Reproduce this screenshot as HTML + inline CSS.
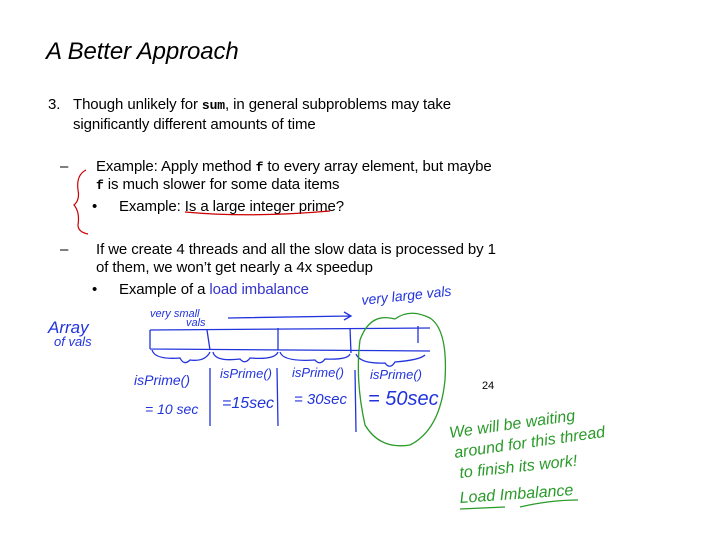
<!DOCTYPE html>
<html><head><style>
body{margin:0;width:720px;height:540px;background:#fff;overflow:hidden;position:relative;font-family:"Liberation Sans",sans-serif;}
.t{position:absolute;color:#000;font-size:15px;white-space:nowrap;letter-spacing:-0.1px}
code{font-family:"Liberation Mono",monospace;font-weight:bold;font-size:13px}
</style></head><body>
<div class="t" style="left:46px;top:38px;font-size:24px;font-style:italic">A Better Approach</div>
<div class="t" style="left:48px;top:96px">3.</div>
<div class="t" style="left:73px;top:96px">Though unlikely for <code>sum</code>, in general subproblems may take</div>
<div class="t" style="left:73px;top:116px">significantly different amounts of time</div>
<div class="t" style="left:60px;top:158px">–</div>
<div class="t" style="left:96px;top:158px">Example: Apply method <code>f</code> to every array element, but maybe</div>
<div class="t" style="left:96px;top:176px"><code>f</code> is much slower for some data items</div>
<div class="t" style="left:92px;top:198px">•</div>
<div class="t" style="left:119px;top:198px">Example: Is a large integer prime?</div>
<div class="t" style="left:60px;top:241px">–</div>
<div class="t" style="left:96px;top:241px">If we create 4 threads and all the slow data is processed by 1</div>
<div class="t" style="left:96px;top:259px">of them, we won’t get nearly a 4x speedup</div>
<div class="t" style="left:92px;top:281px">•</div>
<div class="t" style="left:119px;top:281px">Example of a <span style="color:#3333cc">load imbalance</span></div>
<div class="t" style="left:482px;top:380px;font-size:11px">24</div>
<svg width="720" height="540" style="position:absolute;left:0;top:0" font-family="'Liberation Sans',sans-serif">
<g fill="none" stroke="#c00" stroke-width="1.2">
<path d="M86 170 Q76 175 78 190 Q80 200 74 205 Q80 212 78 225 Q78 232 88 234"/>
<path d="M185 212 Q250 218 330 211"/>
</g>
<g fill="none" stroke="#2233dd" stroke-width="1.3">
<path d="M150 330 L430 328 M150 330 L150 349 M150 349 L430 351"/>
<path d="M207 330 L210 350 M278 328 L278 350 M350 328 L351 353 M418 326 L418 343"/>
<path d="M228 318 L350 316 M344 312 L351 316 L344 320"/>
<path d="M152 350 Q155 360 180 358 Q184 366 190 360 Q205 362 210 352"/>
<path d="M213 352 Q215 362 240 359 Q245 365 250 358 Q275 360 278 352"/>
<path d="M280 352 Q283 362 315 360 Q320 366 325 359 Q348 360 350 354"/>
<path d="M356 354 Q360 364 385 363 Q390 370 395 362 Q420 360 425 355"/>
<path d="M210 368 L210 426 M277 368 L278 426 M355 370 L356 432"/>
</g>
<g fill="#2233dd" font-style="italic">
<text x="48" y="333" font-size="17">Array</text>
<text x="54" y="346" font-size="13">of vals</text>
<text x="150" y="317" font-size="11">very small</text>
<text x="186" y="326" font-size="11">vals</text>
<text x="362" y="305" font-size="14" transform="rotate(-6 362 305)">very large vals</text>
<text x="134" y="385" font-size="14">isPrime()</text>
<text x="220" y="378" font-size="13">isPrime()</text>
<text x="292" y="377" font-size="13">isPrime()</text>
<text x="370" y="379" font-size="13">isPrime()</text>
<text x="145" y="414" font-size="14">= 10 sec</text>
<text x="222" y="408" font-size="16">=15sec</text>
<text x="294" y="404" font-size="15">= 30sec</text>
<text x="368" y="405" font-size="20">= 50sec</text>
</g>
<g fill="none" stroke="#2a9a2a" stroke-width="1.3">
<path d="M395 319 Q370 312 360 340 Q355 380 365 425 Q380 450 410 445 Q440 430 445 380 Q448 330 430 318 Q410 308 395 319"/>
<path d="M460 509 L505 507 M520 507 Q550 500 578 500"/>
</g>
<g fill="#2a9a2a" font-style="italic" font-size="16">
<text x="450" y="438" transform="rotate(-8 450 438)">We will be waiting</text>
<text x="455" y="458" transform="rotate(-8 455 458)">around for this thread</text>
<text x="460" y="478" transform="rotate(-6 460 478)">to finish its work!</text>
<text x="460" y="503" transform="rotate(-4 460 503)">Load Imbalance</text>
</g>
</svg>
</body></html>
